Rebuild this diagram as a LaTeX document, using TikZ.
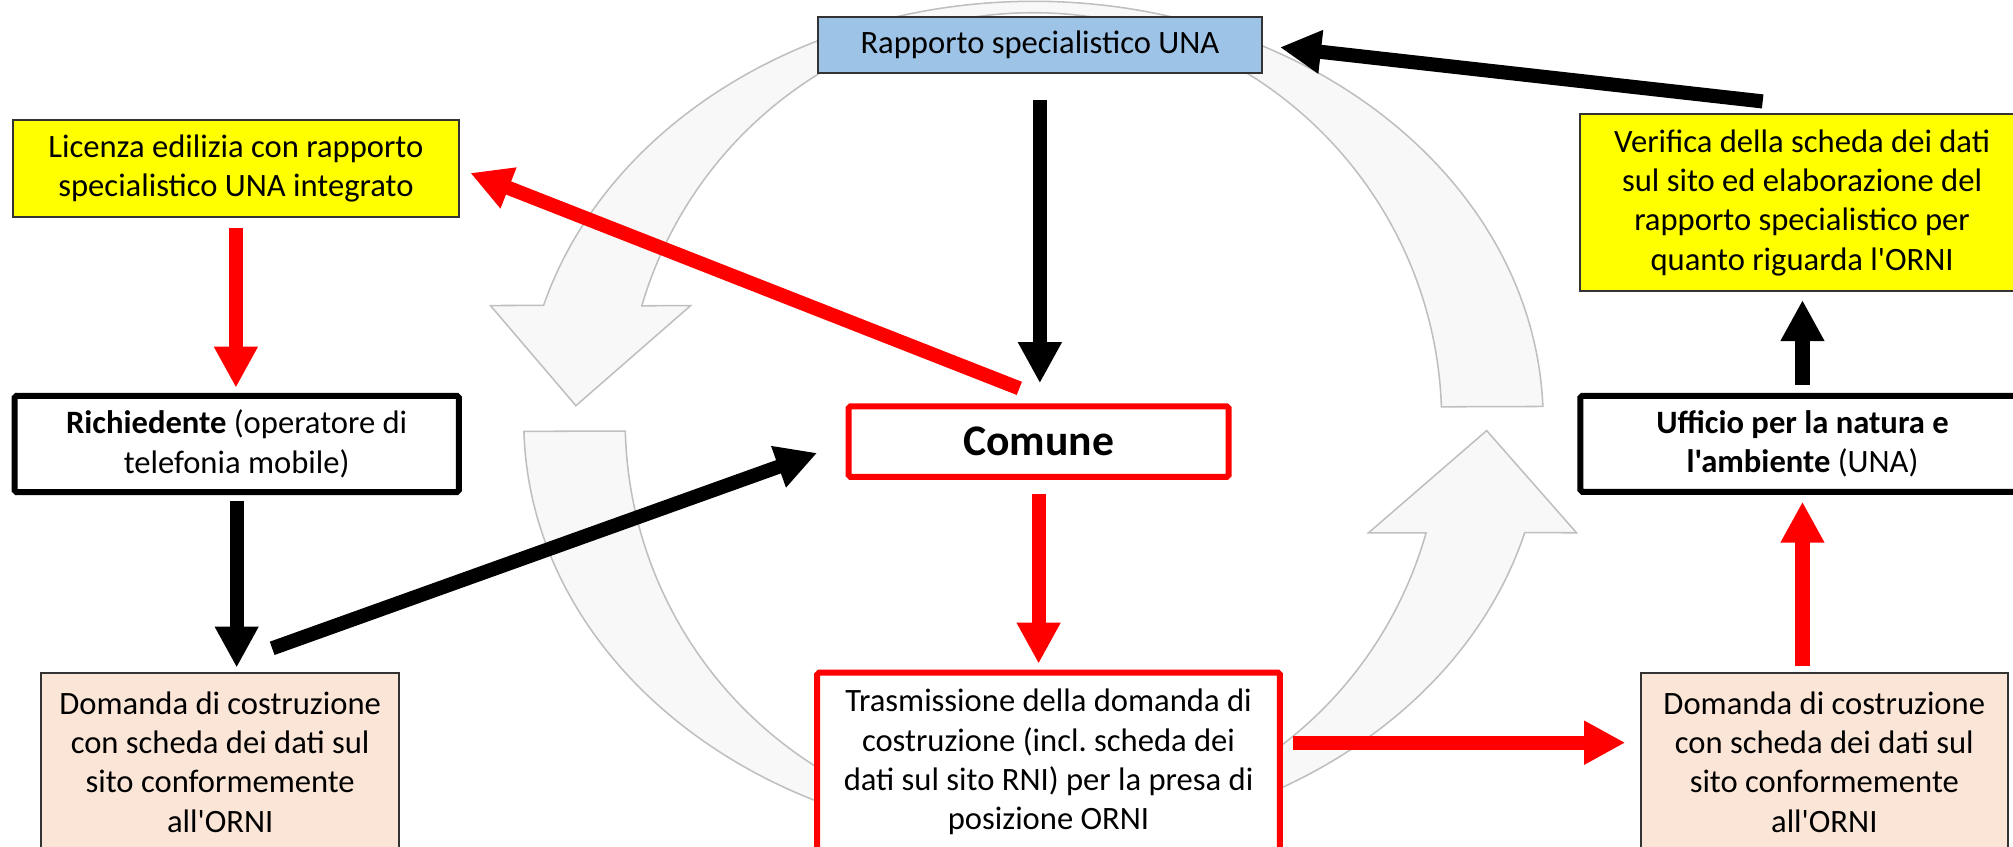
\documentclass[tikz,border=0pt]{standalone}
\usepackage{fontspec}
\setmainfont[Ligatures=TeXOff]{Carlito}
\usetikzlibrary{arrows.meta,calc}
\frenchspacing
\definecolor{boxblue}{RGB}{157,195,230}
\definecolor{boxyellow}{RGB}{255,255,0}
\definecolor{peach}{RGB}{251,229,214}
\definecolor{ringfill}{RGB}{248,248,248}
\definecolor{ringline}{RGB}{191,191,191}
\definecolor{pred}{RGB}{255,0,0}
\tikzset{
  basebox/.style={font=\fontsize{25.4pt}{30.6pt}\selectfont, align=center, inner sep=0pt, outer sep=0pt},
  thinbox/.style={basebox, draw=black!80, line width=1.3pt},
  thickbox/.style={basebox, draw=black, line width=4.7pt, rounded corners=1.5pt, fill=white},
  redbox/.style={basebox, draw=pred, line width=4.7pt, rounded corners=1.5pt, fill=white},
  arr/.style={line width=11pt, -{Triangle[width=32pt,length=32pt]}},
  blk/.style={arr, draw=black},
  rd/.style={arr, draw=pred},
  ring/.style={fill=ringfill, draw=ringline, line width=1.2pt, line join=miter},
}
\begin{document}
\begin{tikzpicture}[x=1pt,y=-1pt]
\useasboundingbox (0,0) rectangle (1568,659);
\clip (0,0) rectangle (1568,659);
% background circular arrows
\draw[ring] (1201.8,316.6) arc[start angle=-2,end angle=-164,x radius=397,y radius=327]
  -- (382,238) -- (448.6,316) -- (538,238) -- (499.9,238.2)
  arc[start angle=-163.6,end angle=-2,x radius=318,y radius=318] -- cycle;
\draw[ring] (408.1,336) arc[start angle=178.6,end angle=15.4,x radius=397,y radius=327]
  -- (1228,415) -- (1158,335.4) -- (1066,415) -- (1110.8,415.1)
  arc[start angle=15.9,end angle=178.6,x radius=318,y radius=318] -- cycle;
% boxes
\node[thinbox, fill=boxblue, minimum width=346pt, minimum height=43.5pt] (rapp) at (810,35.25) {Rapporto specialistico UNA};
\node[thinbox, fill=boxyellow, minimum width=347.5pt, minimum height=75.5pt] (lic) at (183.75,131.25) {Licenza edilizia con rapporto\\specialistico UNA integrato};
\node[thickbox, minimum width=346pt, minimum height=75pt] (rich) at (184.35,345.8) {\textbf{Richiedente} (operatore di\\telefonia mobile)};
\node[thinbox, fill=peach, minimum width=279pt, minimum height=139pt] (domL) at (171.5,593.5) {Domanda di costruzione\\con scheda dei dati sul\\sito conformemente\\all'ORNI};
\node[redbox, minimum width=296pt, minimum height=55pt, font=\fontsize{34pt}{40pt}\selectfont\bfseries] (comune) at (809,344) {Comune};
\node[redbox, minimum width=360.5pt, minimum height=139pt] (trans) at (816.75,593.5) {Trasmissione della domanda di\\costruzione (incl. scheda dei\\dati sul sito RNI) per la presa di\\posizione ORNI};
\node[thinbox, fill=peach, minimum width=286pt, minimum height=139pt] (domR) at (1421,593.5) {Domanda di costruzione\\con scheda dei dati sul\\sito conformemente\\all'ORNI};
\node[thickbox, minimum width=346pt, minimum height=74.7pt] (una) at (1404,345.7) {\textbf{Ufficio per la natura e}\\\textbf{l'ambiente} (UNA)};
\node[thinbox, fill=boxyellow, minimum width=346.2pt, minimum height=137.8pt] (ver) at (1403.7,157.9) {Verifica della scheda dei dati\\sul sito ed elaborazione del\\rapporto specialistico per\\quanto riguarda l'ORNI};
% connectors
\draw[blk, shorten <=20.8pt, shorten >=18pt] (rapp.south) -- (rapp.south |- comune.north);
\coordinate (bT) at ($(comune.north)+(-15,-14)$);
\draw[rd, shorten >=9.5pt] (bT) -- (lic.east);
\draw[rd, shorten <=8.5pt, shorten >=6.3pt] (lic.south) -- (lic.south |- rich.north);
\draw[blk, shorten <=6.7pt, shorten >=4pt] (rich.south) -- (rich.south |- domL.north);
\coordinate (eT) at ($(domL.north)+(40.5,-19)$);
\draw[blk, shorten >=26pt] (eT) -- (comune.west);
\draw[rd, shorten <=13.1pt, shorten >=7pt] (comune.south) -- (comune.south |- trans.north);
\coordinate (gT) at ($(trans.east)+(10,-15)$);
\draw[rd, shorten >=12pt] (gT) -- (gT -| domR.west);
\draw[rd, shorten <=5pt, shorten >=7.7pt] (una.south |- domR.north) -- (una.south);
\draw[blk, shorten <=8.3pt, shorten >=6.9pt] (una.north) -- (una.north |- ver.south);
\coordinate (jT) at ($(ver.north)+(-30.7,-10)$);
\draw[blk, shorten >=14.1pt] (jT) -- (rapp.east);
\end{tikzpicture}
\end{document}
